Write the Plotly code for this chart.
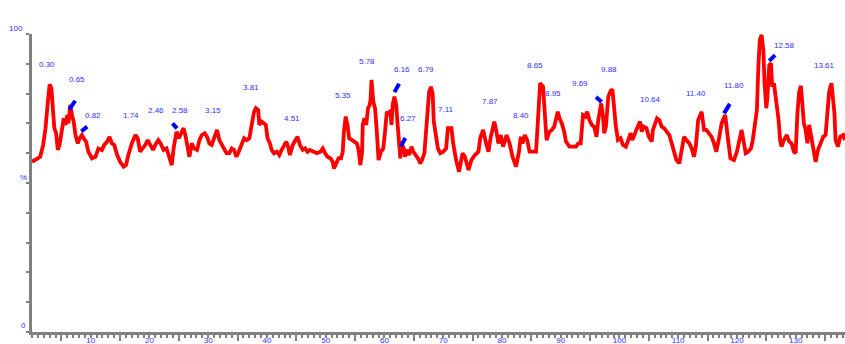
import numpy as np
import plotly.graph_objects as go

# Chromatogram trace: x in axis units (retention time x10), relative intensity in %
x_time = [
    0.0, 0.8, 1.4, 1.9, 2.3, 2.7, 3.0, 3.3, 3.6, 3.8,
    4.1, 4.4, 4.7, 4.9, 5.4, 5.7, 6.0, 6.2, 6.5, 6.8,
    7.1, 7.4, 7.8, 8.1, 8.5, 8.8, 9.2, 9.6, 10.2, 10.8,
    11.3, 11.9, 12.3, 12.8, 13.2, 13.6, 14.0, 14.5, 15.0, 15.6,
    16.0, 16.4, 17.0, 17.6, 18.0, 18.4, 18.9, 19.3, 19.7, 20.1,
    20.6, 21.0, 21.5, 21.9, 22.4, 22.9, 23.2, 23.5, 23.8, 24.1,
    24.6, 25.0, 25.4, 25.8, 26.1, 26.5, 26.8, 27.2, 27.6, 28.1,
    28.5, 28.9, 29.4, 29.8, 30.2, 30.6, 31.0, 31.5, 31.9, 32.3,
    32.7,
    33.1, 33.6, 34.0, 34.4, 34.8, 35.2, 35.7, 36.1, 36.5, 37.0,
    37.4, 37.8, 38.1, 38.5, 38.7, 39.1, 39.5, 39.8, 40.1, 40.5,
    40.8, 41.2, 41.7, 42.1, 42.5, 42.9, 43.3, 43.6, 43.9, 44.4,
    44.8, 45.2, 45.6, 46.1, 46.5, 46.9, 47.3, 47.9, 48.5, 49.1,
    49.5, 49.9, 50.3, 50.8, 51.2, 51.4, 51.8, 52.2, 52.6, 52.9,
    53.1, 53.4, 53.7, 54.0, 54.5, 54.8, 55.3, 55.6, 55.9, 56.2,
    56.3, 56.6, 56.9, 57.2, 57.5, 57.65, 57.8, 58.1, 58.4, 58.7,
    59.0, 59.4, 59.8, 60.1, 60.4, 60.8, 61.0, 61.2, 61.4, 61.7,
    62.0, 62.2, 62.5, 62.7, 62.9, 63.3, 63.5, 63.8, 64.2, 64.6,
    64.9, 65.3, 65.7, 66.1, 66.4, 66.8, 67.0, 67.3, 67.6, 67.9,
    68.2, 68.4, 68.8, 69.1, 69.5, 70.0, 70.5, 70.8, 71.4, 71.7,
    72.2, 72.7, 73.3, 73.7, 74.3, 74.8, 75.4, 76.0, 76.3, 76.8,
    77.3, 77.7, 78.1, 78.7, 79.0, 79.4, 79.8, 80.2, 80.8, 81.3,
    81.8, 82.4, 82.9, 83.2, 83.5, 83.9, 84.3, 84.7, 85.2, 85.8,
    86.0, 86.3, 86.5, 87.0, 87.3, 87.6, 88.1, 88.5, 88.9, 89.5,
    89.8, 90.2, 90.6, 90.9, 91.5, 92.1, 92.6, 93.0, 93.4, 93.8,
    94.2, 94.5, 94.9, 95.3, 95.7, 96.1, 96.4, 96.9, 97.2, 97.4,
    97.7,
    98.1, 98.5, 98.8, 99.1, 99.4, 99.75, 100.2, 100.6, 101.1, 101.5,
    101.9, 102.2, 102.6, 103.0, 103.5, 103.8, 104.1, 104.6, 105.0, 105.5,
    105.7, 106.4, 106.8, 107.2, 107.6, 108.0, 108.5, 108.9, 109.3, 109.7,
    110.2, 110.6, 111.0, 111.4, 111.9, 112.3, 112.7, 113.0, 113.4, 114.0,
    114.2, 114.4, 114.8, 115.3, 115.7, 116.1, 116.5, 117.0, 117.4, 118.0,
    118.3, 118.5, 118.9, 119.5, 120.0, 120.4, 120.8, 121.1, 121.5, 121.9,
    122.4, 122.7, 123.1, 123.4, 123.65, 123.9, 124.2, 124.5, 124.7, 125.0,
    125.2, 125.5, 125.8, 126.0, 126.3, 126.7, 127.1, 127.35, 127.6, 128.0,
    128.5, 128.9, 129.3,
    129.7, 130.0, 130.3, 130.6, 130.9, 131.2, 131.4, 131.7, 132.0, 132.3,
    132.7, 133.1, 133.4, 133.8, 134.2, 134.7, 135.1, 135.4, 135.7, 136.1,
    136.3, 136.6, 136.8, 137.2, 137.6, 138.1, 138.4,
]

intensity = [
    57.1, 58.3, 58.8, 62.8, 68.4, 77.3, 83.1, 81.8, 73.9, 68.4,
    66.7, 61.1, 62.8, 66.1, 71.7, 69.5, 72.8, 70.0, 76.2, 72.8,
    70.6, 66.1, 63.3, 65.0, 66.1, 65.0, 63.9, 60.5, 58.3, 58.8,
    61.6, 61.1, 62.8, 63.9, 65.5, 63.3, 62.8, 59.4, 57.1, 55.5,
    56.0, 59.4, 63.3, 66.1, 65.0, 60.5, 61.6, 62.8, 64.4, 62.8,
    61.1, 62.8, 64.4, 63.3, 61.1, 61.6, 59.4, 58.3, 56.0, 61.6,
    67.2, 65.0, 66.7, 68.4, 66.1, 61.6, 58.8, 63.3, 61.6, 61.1,
    64.4, 66.1, 66.7, 65.5, 63.3, 62.8, 65.0, 67.8, 64.4, 62.8,
    61.1,
    60.0, 60.0, 61.6, 61.1, 58.8, 60.5, 63.3, 65.0, 64.4, 65.0,
    69.5, 73.9, 75.1, 74.5, 69.5, 70.6, 70.0, 69.5, 65.0, 63.3,
    61.1, 60.0, 60.5, 59.4, 61.1, 62.8, 63.9, 62.2, 59.4, 62.8,
    63.9, 65.5, 62.8, 61.1, 61.6, 60.5, 61.1, 60.5, 60.0, 60.5,
    61.6, 60.0, 58.8, 58.3, 57.1, 54.9, 56.6, 58.3, 58.3, 60.5,
    67.2, 72.3, 69.5, 65.0, 64.4, 63.9, 63.3, 61.1, 56.0, 60.5,
    69.5, 71.7, 69.5, 75.1, 76.2, 78.4, 84.6, 77.3, 75.1, 67.2,
    57.7, 60.5, 61.6, 67.2, 73.9, 72.8, 74.5, 69.5, 76.2, 79.0,
    76.2, 70.6, 63.9, 58.3, 63.3, 61.6, 58.8, 61.1, 59.4, 62.2,
    60.5, 59.4, 58.3, 56.6, 57.7, 60.0, 66.1, 73.9, 80.6, 82.3,
    80.1, 70.6, 66.1, 61.6, 60.0, 60.5, 61.6, 68.4, 68.4, 63.3,
    57.7, 53.8, 60.0, 58.8, 54.4, 57.7, 59.4, 60.5, 65.0, 67.8,
    63.3, 60.5, 65.5, 70.6, 67.8, 63.3, 66.1, 62.2, 66.1, 63.3,
    58.8, 55.5, 60.5, 65.5, 63.3, 66.1, 64.4, 60.5, 60.5, 60.5,
    66.7, 77.9, 83.5, 82.3, 72.3, 64.4, 67.2, 67.8, 68.9, 73.9,
    71.7, 70.0, 67.2, 63.9, 62.2, 62.2, 62.2, 63.3, 63.3, 72.8,
    72.3, 73.9, 71.1, 69.5, 68.9, 65.5, 71.1, 76.7, 72.3, 66.7,
    68.9,
    79.0, 80.9, 81.4, 74.5, 68.9, 64.4, 65.0, 62.8, 62.2, 64.4,
    66.7, 64.4, 66.7, 68.4, 70.6, 67.2, 68.9, 68.4, 65.5, 63.9,
    67.8, 71.7, 71.1, 68.9, 68.4, 67.2, 66.1, 63.3, 60.0, 57.7,
    56.6, 62.2, 65.5, 64.4, 63.3, 61.6, 58.8, 62.2, 71.1, 73.9,
    71.1, 67.8, 67.8, 66.7, 65.5, 63.3, 60.5, 65.5, 70.0, 72.8,
    68.9, 64.4, 58.3, 57.7, 60.5, 64.4, 67.8, 64.4, 60.0, 60.5,
    61.6, 64.4, 70.0, 74.5, 89.0, 98.0, 99.7, 94.6, 83.5, 75.1,
    79.0, 89.5, 90.2, 82.3, 83.5, 77.9, 71.1, 64.4, 62.2, 64.4,
    66.1, 63.9, 63.3,
    60.5, 60.0, 73.4, 80.6, 82.6, 74.5, 70.0, 67.8, 63.3, 69.5,
    64.4, 61.1, 57.1, 61.1, 63.3, 65.5, 66.1, 74.5, 80.6, 83.5,
    79.0, 73.4, 64.4, 62.2, 65.5, 66.1, 64.4,
]
assert len(x_time) == len(intensity)

# Peak annotations (retention time in minutes)
peak_labels = ["0.30", "0.65", "0.82", "1.74", "2.46", "2.58", "3.15", "3.81", "4.51",
               "5.35", "5.78", "6.16", "6.27", "6.79", "7.11", "7.87", "8.40", "8.65",
               "8.95", "9.69", "9.88", "10.64", "11.40", "11.80", "12.42", "12.58", "13.61"]

# Where each peak label sits (axis units)
label_pos = [
    (2.55, 89.6), (7.71, 84.8), (10.43, 72.8), (16.81, 72.6), (21.15, 74.3),
    (25.23, 74.3), (30.81, 74.3), (37.31, 82.1), (44.23, 71.7), (52.93, 79.3),
    (57.04, 90.8), (62.95, 88.2), (63.93, 71.8), (67.08, 88.2), (70.48, 74.5),
    (78.05, 77.5), (83.24, 72.8), (85.68, 89.5), (88.77, 80.1), (93.33, 83.5),
    (98.16, 88.2), (105.36, 78.1), (113.05, 80.1), (119.48, 82.8), (123.36, 106.3),
    (128.16, 96.3), (134.96, 89.5),
]

# Shoulder tick marks: anchor on the trace, then a short stroke (dx, dy)
shoulder_marks = [
    (6.35, 1.0, 3.0), (8.4, 1.0, 1.6), (24.67, -0.75, 1.7), (61.7, 0.8, 2.8),
    (62.8, 0.75, 2.8), (96.97, -0.95, 1.7), (117.8, 1.0, 3.2), (125.5, 1.0, 1.9),
]

x_ticks = list(range(10, 140, 10))

BLUE_TEXT = "#3030ff"
GREY = "#808080"
FONT = "Liberation Sans, Arial, sans-serif"

mx, my = [], []
for ax_x, dx, dy in shoulder_marks:
    y0 = float(np.interp(ax_x, x_time, intensity)) + 1.5
    mx += [ax_x, ax_x + dx, None]
    my += [y0, y0 + dy, None]

fig = go.Figure()
fig.add_trace(go.Scatter(x=x_time, y=intensity, mode="lines",
                         line=dict(color="#ff0000", width=3.8), hoverinfo="skip"))
fig.add_trace(go.Scatter(x=mx, y=my, mode="lines",
                         line=dict(color="#0000ff", width=4), hoverinfo="skip"))
# invisible carrier so the fine tick axis gets drawn
fig.add_trace(go.Scatter(x=[1], y=[1], xaxis="x2", mode="markers",
                         marker=dict(size=1, opacity=0), hoverinfo="skip"))

x_range = [0, 138.4]
fig.update_layout(
    width=845, height=344,
    margin=dict(l=32, r=0, t=34, b=12),
    paper_bgcolor="white", plot_bgcolor="white",
    showlegend=False,
    xaxis=dict(range=x_range, showgrid=False, zeroline=False, automargin=False,
               showline=True, linecolor=GREY, linewidth=3,
               tickmode="array", tickvals=x_ticks, ticktext=[str(t) for t in x_ticks],
               ticks="outside", ticklen=3, tickwidth=2, tickcolor=GREY,
               ticklabelstandoff=-5,
               tickfont=dict(family=FONT, size=8, color=BLUE_TEXT),
               minor=dict(tickmode="linear", tick0=5, dtick=10, ticks="outside",
                          ticklen=6, tickwidth=2, tickcolor=GREY)),
    xaxis2=dict(range=x_range, overlaying="x", anchor="y", side="bottom",
                showgrid=False, zeroline=False, showline=False, automargin=False,
                tick0=0, dtick=1, ticks="outside", ticklen=5, tickwidth=1.5,
                tickcolor=GREY, showticklabels=False),
    yaxis=dict(range=[0, 100], showgrid=False, zeroline=False, automargin=False,
               showline=True, linecolor=GREY, linewidth=3,
               tick0=0, dtick=10, ticks="outside", ticklen=3, tickwidth=2,
               tickcolor=GREY, showticklabels=False),
)

for text, (lx, ly) in zip(peak_labels, label_pos):
    fig.add_annotation(x=lx, y=ly, text=text, showarrow=False,
                       xanchor="center", yanchor="middle",
                       font=dict(family=FONT, size=8, color=BLUE_TEXT))

# y-axis end labels and unit
for text, yv, xs, ys in [("100", 100, -16, 6), ("%", 50, -9, 6), ("0", 0, -9, 7)]:
    fig.add_annotation(x=0, xref="paper", y=yv, yref="y", text=text, showarrow=False,
                       xanchor="center", yanchor="middle", xshift=xs, yshift=ys,
                       font=dict(family=FONT, size=8, color=BLUE_TEXT))

fig.write_html("out.html")
